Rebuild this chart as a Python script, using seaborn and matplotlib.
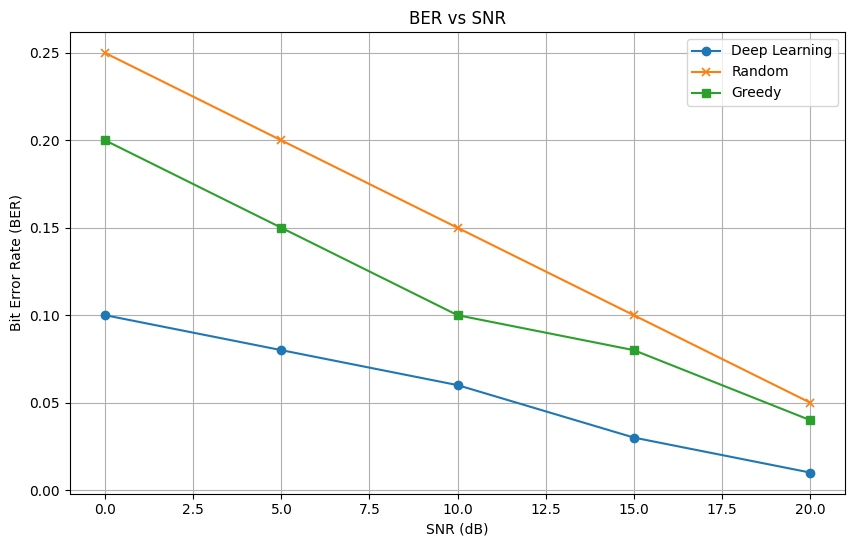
import matplotlib
matplotlib.use("Agg")
import matplotlib.pyplot as plt
import seaborn as sns
import pandas as pd

snr = [0, 5, 10, 15, 20]
deep_learning = [0.10, 0.08, 0.06, 0.03, 0.01]
random_ber = [0.25, 0.20, 0.15, 0.10, 0.05]
greedy = [0.20, 0.15, 0.10, 0.08, 0.04]

fig = plt.figure(figsize=(8.55, 5.47), dpi=100)
ax = fig.add_axes([0.0818, 0.0978, 0.9068, 0.8437])

series = [("Deep Learning", deep_learning, "o"), ("Random", random_ber, "x"), ("Greedy", greedy, "s")]
colors = ["#1f77b4", "#ff7f0e", "#2ca02c"]
for (name, vals, m), c in zip(series, colors):
    df = pd.DataFrame({"SNR": snr, "BER": vals})
    sns.lineplot(data=df, x="SNR", y="BER", marker=m, color=c, label=name, ax=ax,
                 markersize=6, markeredgecolor=c, markeredgewidth=1.2 if m == "x" else 1.0)

ax.set_title("BER vs SNR")
ax.set_xlabel("SNR (dB)")
ax.set_ylabel("Bit Error Rate (BER)")
ax.grid(True)
ax.legend(loc="upper right")
fig.savefig("out.png", dpi=100)
